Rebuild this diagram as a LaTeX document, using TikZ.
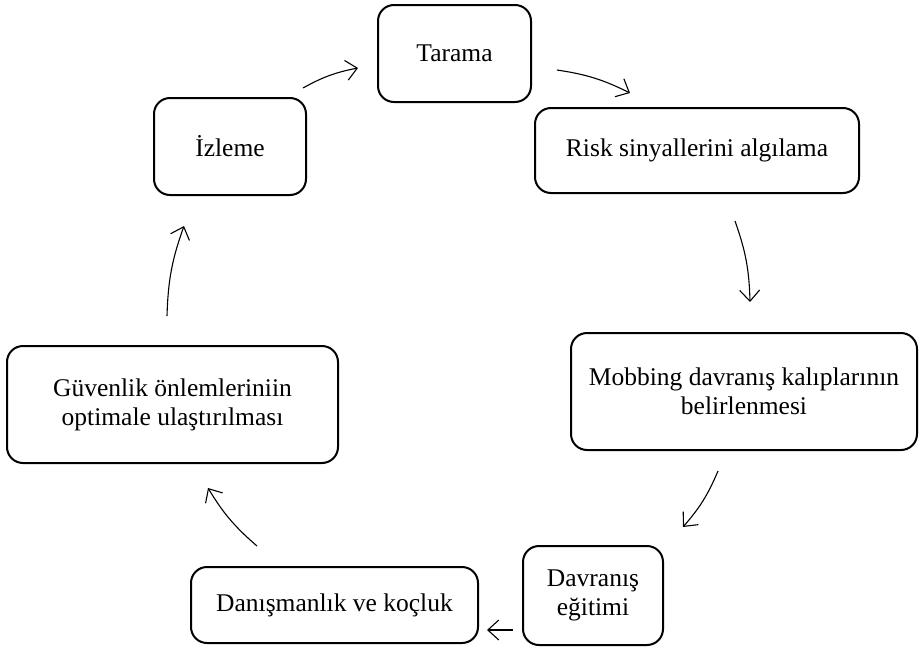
\documentclass[tikz,border=0pt]{standalone}
\usepackage{fontspec}
\setmainfont{Liberation Serif}
\usetikzlibrary{arrows.meta}
\begin{document}
\begin{tikzpicture}[x=1pt,y=-1pt,
  stagebox/.style={draw, line width=2pt, rounded corners=16pt, align=center, font=\fontsize{25.5}{29}\selectfont, inner sep=0pt},
  flow/.style={line width=1.1pt, -{Straight Barb[length=11pt,width=20pt,line width=1.1pt]}, bend left=9}]
\useasboundingbox (0,0) rectangle (919,651);
\node[stagebox, minimum width=153pt, minimum height=97pt] (tarama) at (454.5,53.5) {Tarama};
\node[stagebox, minimum width=152pt, minimum height=97pt] (izleme) at (230,146.5) {İzleme};
\node[stagebox, minimum width=324pt, minimum height=85pt] (risk) at (697,150.5) {Risk sinyallerini algılama};
\node[stagebox, minimum width=346pt, minimum height=117pt] (mobbing) at (744,391.5) {Mobbing davranış kalıplarının\\belirlenmesi};
\node[stagebox, minimum width=140pt, minimum height=99pt] (egitim) at (593,595.5) {Davranış\\eğitimi};
\node[stagebox, minimum width=287pt, minimum height=76pt] (danis) at (334.5,605) {Danışmanlık ve koçluk};
\node[stagebox, minimum width=331pt, minimum height=117pt] (guven) at (172.5,404.5) {Güvenlik önlemleriniin\\optimale ulaştırılması};
\coordinate (a1) at (303,88); \coordinate (b1) at (358,68);
\coordinate (a2) at (557,70); \coordinate (b2) at (630,93);
\coordinate (a3) at (735,221); \coordinate (b3) at (750,302);
\coordinate (a4) at (718,471); \coordinate (b4) at (683,527);
\coordinate (a5) at (513,630); \coordinate (b5) at (487,630);
\coordinate (a6) at (257,546); \coordinate (b6) at (208,488);
\coordinate (a7) at (167,316); \coordinate (b7) at (184,226);
\draw[flow] (a1) to (b1);
\draw[flow] (a2) to (b2);
\draw[flow] (a3) to (b3);
\draw[flow] (a4) to (b4);
\draw[flow, bend left=0] (a5) to (b5);
\draw[flow] (a6) to (b6);
\draw[flow] (a7) to (b7);
\end{tikzpicture}
\end{document}
